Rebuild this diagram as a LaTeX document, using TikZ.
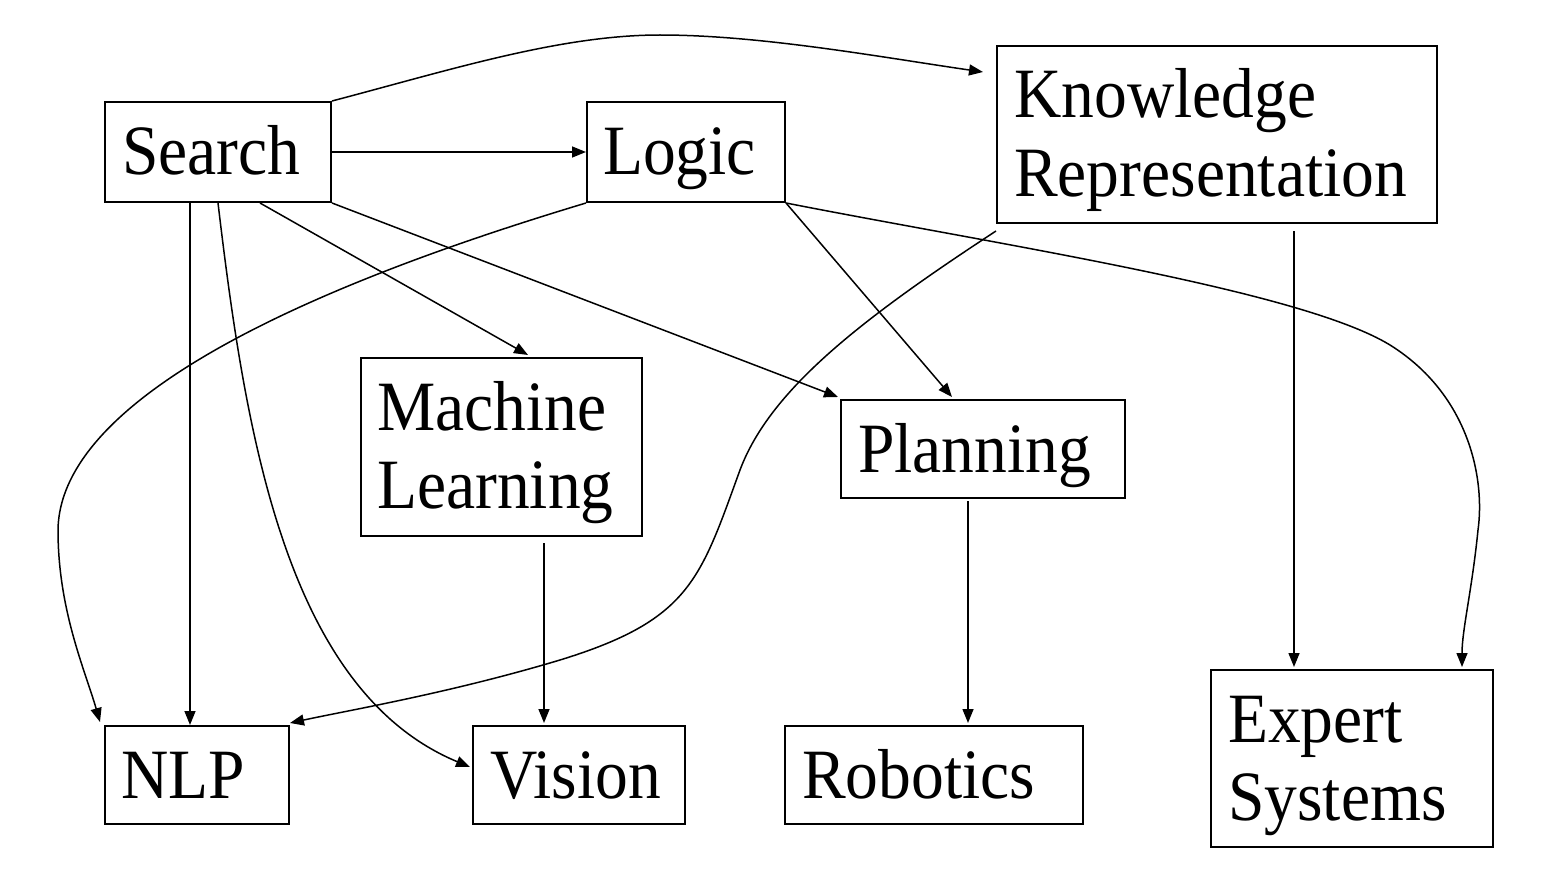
\documentclass[tikz,border=0pt]{standalone}
\usepackage{fontspec}
\setmainfont{Liberation Serif}
\usetikzlibrary{arrows.meta,calc}
\tikzset{
  box/.style={draw, line width=2pt, anchor=north west, inner sep=0pt},
  txt/.style={anchor=base west, inner sep=0pt, font=\fontsize{65.5}{73}\selectfont},
  conn/.style={line width=1.5pt, -{Triangle[length=14pt,width=11pt]}}
}
\newcommand{\tallt}[1]{\scalebox{1}[1.08]{#1}}
\newcommand{\twolines}[2]{\scalebox{1}[1.08]{\begin{tabular}[t]{@{}l@{}}#1\\#2\end{tabular}}}
\begin{document}
\begin{tikzpicture}[x=1pt,y=-1pt]
\useasboundingbox (0,0) rectangle (1564,888);
% boxes
\node[box, minimum width=226pt, minimum height=100pt] (search) at (104,101) {};
\node[box, minimum width=198pt, minimum height=100pt] (logic) at (586,101) {};
\node[box, minimum width=440pt, minimum height=177pt] (kr) at (996,45) {};
\node[box, minimum width=281pt, minimum height=178pt] (ml) at (360,357) {};
\node[box, minimum width=284pt, minimum height=98pt] (plan) at (840,399) {};
\node[box, minimum width=184pt, minimum height=98pt] (nlp) at (104,725) {};
\node[box, minimum width=212pt, minimum height=98pt] (vision) at (472,725) {};
\node[box, minimum width=298pt, minimum height=98pt] (robot) at (784,725) {};
\node[box, minimum width=282pt, minimum height=177pt] (expert) at (1210,669) {};
% texts
\node[txt] (search-t) at (122,175) {\tallt{Search}};
\node[txt] (logic-t) at (603,175) {\tallt{Logic}};
\node[txt] (kr-t) at (1014,118) {\twolines{Knowledge}{Representation}};
\node[txt] (ml-t) at (377,430) {\twolines{Machine}{Learning}};
\node[txt] (plan-t) at (858,472) {\tallt{Planning}};
\node[txt] (nlp-t) at (121,798) {\tallt{NLP}};
\node[txt] (vision-t) at (490,798) {\tallt{Vision}};
\node[txt] (robot-t) at (802,798) {\tallt{Robotics}};
\node[txt] (expert-t) at (1228,742) {\twolines{Expert}{Systems}};
% connectors
\draw[conn] (search.north east) .. controls (450,70) and (560,35) .. (660,35)
  .. controls (760,35) and (880,57) .. ($(kr.north west)+(-13,27)$);
\draw[conn] (search.east) -- (logic.west);
\draw[conn] ($(search.south west)+(86,0)$) -- ($(nlp.north west)+(86,0)$);
\draw[conn] ($(search.south west)+(114,0)$) .. controls (245,430) and (285,690) .. ($(vision.west)+(-2,-8)$);
\draw[conn] ($(search.south west)+(156,0)$) -- ($(ml.north west)+(168,-2)$);
\draw[conn] (search.south east) -- ($(plan.north west)+(-2,-2)$);
\draw[conn] (logic.south west) .. controls (380,265) and (60,380) .. (58,530)
  .. controls (58,610) and (85,670) .. ($(nlp.north west)+(-4,-3)$);
\draw[conn] (logic.south east) -- ($(plan.north west)+(112,-2)$);
\draw[conn] (logic.south east) .. controls (1000,245) and (1300,290) .. (1390,345)
  .. controls (1470,395) and (1485,480) .. (1478,530)
  .. controls (1472,590) and (1462,630) .. ($(expert.north west)+(252,-2)$);
\draw[conn] ($(kr.south west)+(0,7)$) .. controls (860,320) and (770,390) .. (740,470)
  .. controls (700,580) and (690,620) .. (560,660)
  .. controls (450,693) and (350,710) .. ($(nlp.north east)+(0,-2)$);
\draw[conn] ($(kr.south west)+(298,7)$) -- ($(expert.north west)+(84,-2)$);
\draw[conn] ($(ml.south west)+(184,6)$) -- ($(vision.north west)+(72,-2)$);
\draw[conn] ($(plan.south west)+(128,2)$) -- ($(robot.north west)+(184,-2)$);
\end{tikzpicture}
\end{document}
